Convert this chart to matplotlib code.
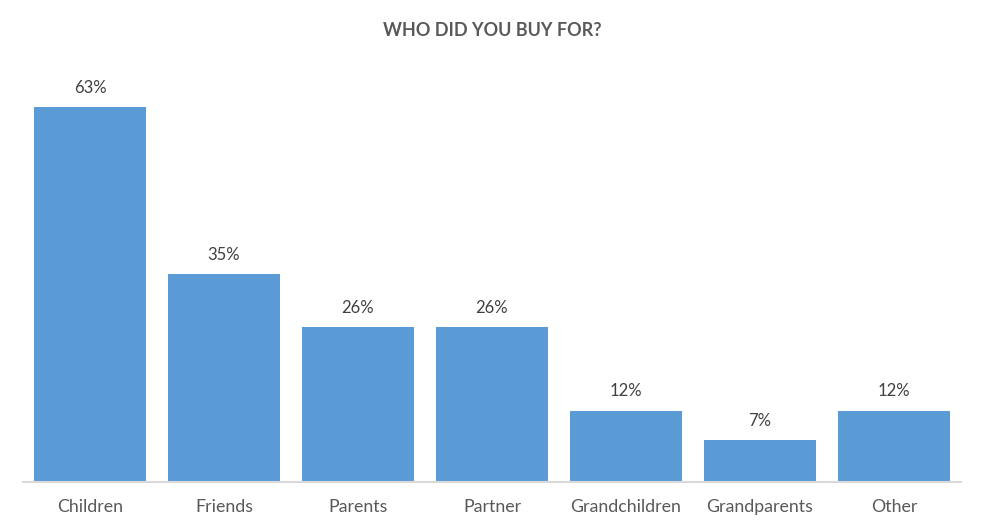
import matplotlib
matplotlib.use("Agg")
import matplotlib.pyplot as plt

categories = ["Children", "Friends", "Parents", "Partner", "Grandchildren", "Grandparents", "Other"]
values = [63, 35, 26, 26, 12, 7, 12]
labels = ["63%", "35%", "26%", "26%", "12%", "7%", "12%"]

plt.rcParams['font.family'] = ['Lato', 'DejaVu Sans']

fig = plt.figure(figsize=(9.84, 5.31), dpi=100)
ax = fig.add_axes([23/984, 1-482/531, 938/984, 422/531])
x = range(len(categories))
bars = ax.bar(x, values, width=0.835, color="#5B9BD5")
for b, lab in zip(bars, labels):
    ax.annotate(lab, (b.get_x() + b.get_width()/2, b.get_height()),
                xytext=(0, 8), textcoords="offset points",
                ha="center", va="bottom", fontsize=12, color="#404040")
ax.set_xlim(-0.5, len(categories) - 0.5)
ax.set_ylim(0, 422/5.95)
ax.set_xticks(list(x))
ax.set_xticklabels(categories, fontsize=12.8, color="#595959")
ax.tick_params(axis="x", length=0, pad=12)
ax.set_yticks([])
for s in ["top", "right", "left"]:
    ax.spines[s].set_visible(False)
ax.spines["bottom"].set_color("#D9D9D9")
ax.spines["bottom"].set_linewidth(1.5)
fig.text(0.5, 1-30/531, "WHO DID YOU BUY FOR?", ha="center", va="center",
         fontsize=13, fontweight="bold", color="#595959")
fig.savefig("out.png", dpi=100)
